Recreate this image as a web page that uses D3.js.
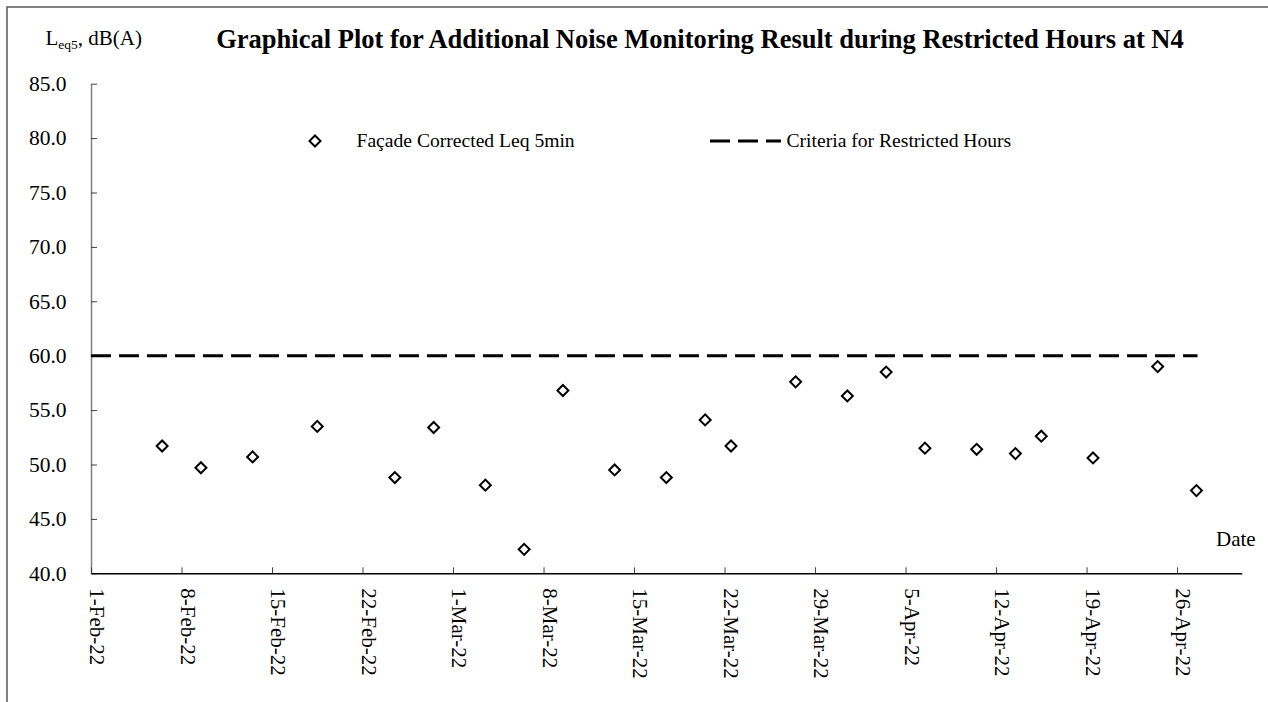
<!DOCTYPE html>
<html>
<head>
<meta charset="utf-8">
<script src="https://cdn.jsdelivr.net/npm/d3@7"></script>
<style>
  body { margin: 0; background: #fff; }
  svg text { font-family: "Liberation Serif", "Times New Roman", serif; fill: #000; }
</style>
</head>
<body>
<svg id="chart" width="1268" height="702"></svg>
<script>
// measurement dates (taken around midday) and facade corrected Leq 5min, dB(A)
const sampleDates = [
  '2022-02-06', '2022-02-09', '2022-02-13', '2022-02-18', '2022-02-24', '2022-02-27',
  '2022-03-03', '2022-03-06', '2022-03-09', '2022-03-13', '2022-03-17', '2022-03-20',
  '2022-03-22', '2022-03-27', '2022-03-31', '2022-04-03', '2022-04-06', '2022-04-10',
  '2022-04-13', '2022-04-15', '2022-04-19', '2022-04-24', '2022-04-27'
];
const leqValues = [
  51.7, 49.7, 50.7, 53.5, 48.8, 53.4,
  48.1, 42.2, 56.8, 49.5, 48.8, 54.1,
  51.7, 57.6, 56.3, 58.5, 51.5, 51.4,
  51.0, 52.6, 50.6, 59.0, 47.6
];

// criteria for restricted hours
const criteriaDates = ['2022-02-01T00:00', '2022-04-27T14:00'];
const criteriaValues = [60, 60];

const xTickDates = [
  '2022-02-01', '2022-02-08', '2022-02-15', '2022-02-22', '2022-03-01', '2022-03-08',
  '2022-03-15', '2022-03-22', '2022-03-29', '2022-04-05', '2022-04-12', '2022-04-19', '2022-04-26'
];
const yTicks = [40, 45, 50, 55, 60, 65, 70, 75, 80, 85];

const parse = d3.timeParse('%Y-%m-%d');
const parseT = d3.timeParse('%Y-%m-%dT%H:%M');
const noon = s => d3.timeHour.offset(parse(s), 12);

const points = sampleDates.map((d, i) => ({ x: noon(d), y: leqValues[i] }));
const criteria = criteriaDates.map((d, i) => ({ x: parseT(d), y: criteriaValues[i] }));

const svg = d3.select('#chart');

// outer frame
svg.append('path')
   .attr('d', 'M7,702 V7 H1268')
   .attr('fill', 'none')
   .attr('stroke', '#595959')
   .attr('stroke-width', 1.5);

const xScale = d3.scaleTime()
                 .domain([parse('2022-02-01'), parse('2022-05-01')])
                 .range([91, 1241.7]);
const yScale = d3.scaleLinear()
                 .domain([40, 85])
                 .range([573.3, 83.7]);

// y axis
const yAxis = svg.append('g')
   .attr('transform', `translate(${xScale.range()[0]},0)`)
   .call(d3.axisLeft(yScale)
           .tickValues(yTicks)
           .tickFormat(d3.format('.1f'))
           .tickSizeInner(-6)
           .tickSizeOuter(0)
           .tickPadding(24.5));
yAxis.select('.domain').attr('stroke', '#808080').attr('stroke-width', 1.5);
yAxis.selectAll('.tick line').attr('stroke', '#404040');
yAxis.selectAll('.tick text')
     .attr('font-size', '21.5px')
     .attr('font-family', '"Liberation Serif", serif');

// x axis
const xAxis = svg.append('g')
   .attr('transform', `translate(0,${yScale.range()[0]})`)
   .call(d3.axisBottom(xScale)
           .tickValues(xTickDates.map(parse))
           .tickFormat(d3.timeFormat('%-d-%b-%y'))
           .tickSizeInner(-6)
           .tickSizeOuter(0));
xAxis.select('.domain').attr('stroke', '#000').attr('stroke-width', 1.5);
xAxis.selectAll('.tick line').attr('stroke', '#404040');
xAxis.selectAll('.tick text')
     .attr('font-size', '21px')
     .attr('font-family', '"Liberation Serif", serif')
     .attr('transform', 'rotate(90)')
     .attr('text-anchor', 'start')
     .attr('x', 15)
     .attr('y', 1.5)
     .attr('dy', null);

// criteria line
const line = d3.line()
               .x(d => xScale(d.x))
               .y(d => yScale(d.y));
svg.append('path')
   .datum(criteria)
   .attr('d', line)
   .attr('fill', 'none')
   .attr('stroke', '#000')
   .attr('stroke-width', 3)
   .attr('stroke-dasharray', '20 8');

// diamonds
const diamond = d3.symbol().type(d3.symbolSquare).size(60);
svg.append('g')
   .selectAll('path')
   .data(points)
   .join('path')
     .attr('d', diamond)
     .attr('transform', d => `translate(${xScale(d.x)},${yScale(d.y)}) rotate(45)`)
     .attr('fill', '#fff')
     .attr('stroke', '#000')
     .attr('stroke-width', 2);

// title and axis labels
svg.append('text')
   .attr('x', 700)
   .attr('y', 48)
   .attr('text-anchor', 'middle')
   .attr('font-size', '26.5px')
   .attr('font-weight', 'bold')
   .text('Graphical Plot for Additional Noise Monitoring Result during Restricted Hours at N4');

const yLabel = svg.append('text')
   .attr('x', 45.5)
   .attr('y', 45)
   .attr('font-size', '21px');
yLabel.append('tspan').text('L');
yLabel.append('tspan').attr('font-size', '13.5px').attr('dy', 4).text('eq5');
yLabel.append('tspan').attr('dy', -4).text(', dB(A)');

svg.append('text')
   .attr('x', 1216)
   .attr('y', 546)
   .attr('font-size', '21px')
   .text('Date');

// legend
const legend = svg.append('g');
legend.append('path')
      .attr('d', diamond)
      .attr('transform', 'translate(315,141) rotate(45)')
      .attr('fill', '#fff')
      .attr('stroke', '#000')
      .attr('stroke-width', 2);
legend.append('text')
      .attr('x', 356.5)
      .attr('y', 147)
      .attr('font-size', '19.6px')
      .text('Façade Corrected Leq 5min');
legend.append('line')
      .attr('x1', 710).attr('x2', 781)
      .attr('y1', 141).attr('y2', 141)
      .attr('stroke', '#000')
      .attr('stroke-width', 3)
      .attr('stroke-dasharray', '20 8');
legend.append('text')
      .attr('x', 786.5)
      .attr('y', 147)
      .attr('font-size', '19.6px')
      .text('Criteria for Restricted Hours');
</script>
</body>
</html>
